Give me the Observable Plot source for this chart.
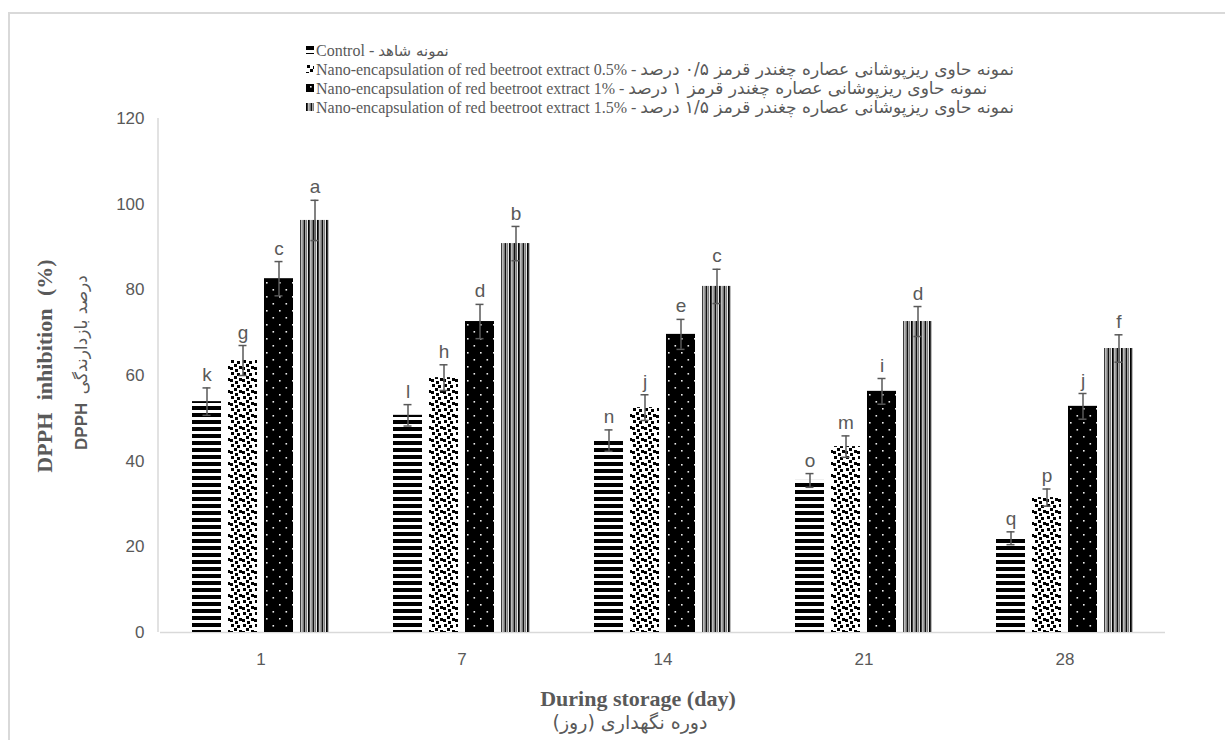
<!DOCTYPE html>
<html>
<head>
<meta charset="utf-8">
<script src="https://cdn.jsdelivr.net/npm/d3@7"></script>
<script src="https://cdn.jsdelivr.net/npm/@observablehq/plot@0.6"></script>
<style>
  html, body { margin: 0; padding: 0; background: #fff; }
  #wrap { position: relative; width: 1225px; height: 740px; overflow: hidden; }
  #frame { position: absolute; left: 8px; top: 12px; width: 1300px; height: 800px;
           border-top: 2px solid #d9d9d9; border-left: 2px solid #d9d9d9; }
  #chart { position: absolute; left: 0; top: 0; }
  .legend { position: absolute; left: 306px; top: 41px; font-family: "Liberation Serif", serif;
            font-size: 16px; color: #595959; }
  .legend .row { height: 19px; line-height: 19px; white-space: nowrap; }
  .legend svg { vertical-align: middle; margin-right: 2px; position: relative; top: -2px; }
  .fa { font-family: "DejaVu Sans", sans-serif; font-size: 17px; }
  .ytitle { position: absolute; white-space: nowrap; color: #595959; transform-origin: center center; }
  .xtitle { position: absolute; white-space: nowrap; color: #595959; text-align: center; }
</style>
</head>
<body>
<svg width="0" height="0" style="position:absolute">
  <defs>
    <pattern id="pCtrl" width="8" height="7" patternUnits="userSpaceOnUse">
      <rect width="8" height="7" fill="#fff"/>
      <rect y="0" width="8" height="4" fill="#000"/>
    </pattern>
    <pattern id="pDot" width="12" height="12" patternUnits="userSpaceOnUse">
      <rect width="12" height="12" fill="#fff"/>
      <rect x="1" y="0" width="3" height="3" fill="#000"/>
      <rect x="7" y="1" width="3" height="3" fill="#000"/>
      <rect x="4" y="4" width="3" height="3" fill="#000"/>
      <rect x="9" y="6" width="3" height="3" fill="#000"/>
      <rect x="0" y="7" width="3" height="3" fill="#000"/>
      <rect x="5" y="9" width="3" height="3" fill="#000"/>
    </pattern>
    <pattern id="pBlack" width="13" height="14" patternUnits="userSpaceOnUse">
      <rect width="13" height="14" fill="#000"/>
      <rect x="4" y="2" width="1.6" height="1.6" fill="#eee"/>
      <rect x="10.5" y="9" width="1.6" height="1.6" fill="#eee"/>
    </pattern>
    <pattern id="pVert" width="4.5" height="10" patternUnits="userSpaceOnUse">
      <rect width="4.5" height="10" fill="#fff"/>
      <rect x="0" width="1.7" height="10" fill="#000"/>
      <rect x="2.5" width="1.2" height="10" fill="#6a6a6a"/>
    </pattern>
  </defs>
</svg>
<div id="wrap">
  <div id="frame"></div>
  <div id="chart"></div>
</div>
<script>
// ---- data ----
const days = ["1", "7", "14", "21", "28"];
const seriesNames = ["Control", "NE 0.5%", "NE 1%", "NE 1.5%"];
const control   = [53.9, 50.7, 44.8, 35.5, 22.0];
const ne05      = [63.5, 59.5, 52.5, 43.4, 31.5];
const ne1       = [82.6, 72.6, 69.6, 56.3, 52.8];
const ne15      = [96.2, 90.8, 80.8, 72.6, 66.3];
const errControl = [3.2, 2.5, 2.5, 1.6, 1.5];
const errNe05    = [3.5, 3.0, 3.0, 2.5, 2.0];
const errNe1     = [4.0, 4.0, 3.5, 3.0, 3.0];
const errNe15    = [4.7, 4.0, 4.0, 3.5, 3.2];
const lettersControl = ["k", "l", "n", "o", "q"];
const lettersNe05    = ["g", "h", "j", "m", "p"];
const lettersNe1     = ["c", "d", "e", "i", "j"];
const lettersNe15    = ["a", "b", "c", "d", "f"];
const yTicks = [0, 20, 40, 60, 80, 100, 120];
const fills = ["url(#pCtrl)", "url(#pDot)", "url(#pBlack)", "url(#pVert)"];
const legendLabels = [
  ["Control - ", "نمونه شاهد"],
  ["Nano-encapsulation of red beetroot extract 0.5% - ", "نمونه حاوی ریزپوشانی عصاره چغندر قرمز ۰/۵ درصد"],
  ["Nano-encapsulation of red beetroot extract 1% - ", "نمونه حاوی ریزپوشانی عصاره چغندر قرمز ۱ درصد"],
  ["Nano-encapsulation of red beetroot extract 1.5% - ", "نمونه حاوی ریزپوشانی عصاره چغندر قرمز ۱/۵ درصد"]
];
const yTitle = "DPPH inhibition (%)";
const yTitleFaA = "DPPH";
const yTitleFaB = "درصد بازدارندگی";
const xTitle = "During storage (day)";
const xTitleFa = "دوره نگهداری (روز)";

// ---- build table ----
const valueSets = [control, ne05, ne1, ne15];
const errSets = [errControl, errNe05, errNe1, errNe15];
const letterSets = [lettersControl, lettersNe05, lettersNe1, lettersNe15];
const rows = [];
days.forEach((d, i) => {
  seriesNames.forEach((s, j) => {
    rows.push({day: d, series: s, value: valueSets[j][i], err: errSets[j][i], letter: letterSets[j][i]});
  });
});

const chart = Plot.plot({
  width: 1225,
  height: 740,
  marginLeft: 158,
  marginRight: 59,
  marginTop: 118,
  marginBottom: 108,
  style: {fontFamily: "'Liberation Sans', sans-serif", fontSize: "17px", color: "#595959", background: "transparent"},
  fx: {domain: days, padding: 0, tickSize: 0, tickPadding: 20, label: null, axis: "bottom"},
  x: {domain: seriesNames, axis: null, paddingInner: 0.2, paddingOuter: 0.855},
  y: {domain: [0, 120], ticks: yTicks, tickSize: 0, tickPadding: 16, label: null},
  color: {type: "ordinal", domain: seriesNames, range: fills},
  marks: [
    Plot.ruleY([0], {stroke: "#d9d9d9", strokeWidth: 1.5}),
    Plot.barY(rows, {fx: "day", x: "series", y: "value", fill: "series"}),
    Plot.ruleX(rows, {fx: "day", x: "series", y1: d => d.value - d.err, y2: d => d.value + d.err, stroke: "#595959", strokeWidth: 1.5}),
    Plot.tickY(rows, {fx: "day", x: "series", y: d => d.value + d.err, stroke: "#595959", strokeWidth: 1.5, insetLeft: 10.5, insetRight: 10.5}),
    Plot.tickY(rows, {fx: "day", x: "series", y: d => d.value - d.err, stroke: "#595959", strokeWidth: 1.5, insetLeft: 10.5, insetRight: 10.5}),
    Plot.text(rows, {fx: "day", x: "series", y: d => d.value + d.err, text: "letter", dy: -13, fill: "#595959", fontSize: 19})
  ]
});
document.getElementById("chart").appendChild(chart);

// y-axis line (light gray), using the plot's own y scale
const ys = chart.scale("y");
d3.select(chart).append("line")
  .attr("x1", 158).attr("x2", 158)
  .attr("y1", ys.apply(120)).attr("y2", ys.apply(0))
  .attr("stroke", "#d9d9d9").attr("stroke-width", 1.5);

// ---- legend ----
const wrap = document.getElementById("wrap");
const legend = document.createElement("div");
legend.className = "legend";
legendLabels.forEach((lab, j) => {
  const row = document.createElement("div");
  row.className = "row";
  row.innerHTML = `<svg width="8" height="8"><rect width="8" height="8" fill="${fills[j]}"/></svg>` +
    `${lab[0]}<span class="fa"${j === 0 ? ' style="font-size:15px"' : ''}>${lab[1]}</span>`;
  legend.appendChild(row);
});
wrap.appendChild(legend);

// ---- axis titles ----
function addDiv(cls, html, css) {
  const el = document.createElement("div");
  el.className = cls;
  el.innerHTML = html;
  Object.assign(el.style, css);
  wrap.appendChild(el);
  return el;
}
const t1 = addDiv("ytitle", yTitle, {fontFamily: "'Liberation Serif', serif", fontWeight: "bold", fontSize: "22px", wordSpacing: "7px"});
const t2 = addDiv("ytitle", `<b style="font-family:'Liberation Sans',sans-serif">${yTitleFaA}</b>&nbsp; <span style="font-family:'DejaVu Sans',sans-serif">${yTitleFaB}</span>`, {fontSize: "17px"});
function placeRot(el, cx, cy) {
  const r = el.getBoundingClientRect();
  el.style.left = (cx - r.width / 2) + "px";
  el.style.top = (cy - r.height / 2) + "px";
  el.style.transform = "rotate(-90deg)";
}
placeRot(t1, 45, 366);
placeRot(t2, 81, 362);

const x1 = addDiv("xtitle", xTitle, {fontFamily: "'Liberation Serif', serif", fontWeight: "bold", fontSize: "22px"});
const x2 = addDiv("xtitle", xTitleFa, {fontFamily: "'DejaVu Sans', sans-serif", fontSize: "19px", direction: "rtl"});
function placeC(el, cx, cy) {
  const r = el.getBoundingClientRect();
  el.style.left = (cx - r.width / 2) + "px";
  el.style.top = (cy - r.height / 2) + "px";
}
placeC(x1, 638, 699);
placeC(x2, 630, 722);
</script>
</body>
</html>
